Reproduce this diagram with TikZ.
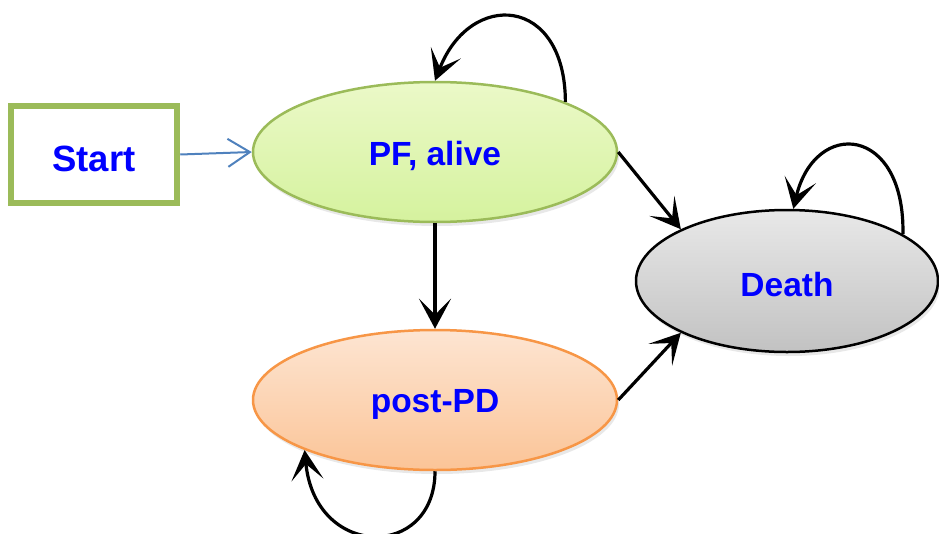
\documentclass[tikz,border=0pt]{standalone}
\usepackage{fontspec}
\setmainfont{Liberation Sans}
\usetikzlibrary{arrows.meta,shapes.geometric,shadows}
\definecolor{greenborder}{HTML}{9BBB59}
\definecolor{pftop}{HTML}{EBF9C8}
\definecolor{pfbot}{HTML}{D5F29E}
\definecolor{pdborder}{HTML}{F79646}
\definecolor{pdtop}{HTML}{FDE5D2}
\definecolor{pdbot}{HTML}{FBC497}
\definecolor{dtop}{HTML}{E8E8E8}
\definecolor{dbot}{HTML}{C2C2C2}
\definecolor{startline}{HTML}{4F81BD}
\definecolor{labelblue}{HTML}{0000FF}
\newcommand{\lowtext}[1]{\raisebox{-4pt}[\height][\depth]{#1}}
\tikzset{
  state/.style={ellipse, inner sep=0pt, minimum width=364pt, minimum height=140pt,
    line width=2.5pt, text=labelblue, font=\fontsize{33.5}{38}\selectfont\bfseries,
    drop shadow={shadow xshift=2pt, shadow yshift=-4pt, opacity=0.18}},
  startbox/.style={rectangle, draw=greenborder, line width=6.5pt, fill=white,
    minimum width=166pt, minimum height=97pt, inner sep=0pt, text=labelblue,
    font=\fontsize{36.5}{40}\selectfont\bfseries},
  trans/.style={draw=black, line width=3.2pt,
    -{Stealth[length=30pt,width=32pt,inset=16pt]}},
  entry/.style={draw=startline, line width=2pt,
    -{Straight Barb[length=22pt,width=28pt,line width=2pt]}}
}
\begin{document}
\begin{tikzpicture}[x=1pt,y=-1pt]
\useasboundingbox (0,0) rectangle (939,533);
\clip (0,0) rectangle (939,533);
\node[startbox] (start) at (94,154.5) {\lowtext{Start}};
\node[state, draw=greenborder, top color=pftop, bottom color=pfbot] (pf) at (435,152) {\lowtext{PF, alive}};
\node[state, draw=pdborder, top color=pdtop, bottom color=pdbot] (pd) at (435,400) {\lowtext{post-PD}};
\node[state, draw=black, top color=dtop, bottom color=dbot, minimum width=302pt, minimum height=142pt] (death) at (787,281) {\lowtext{Death}};
\draw[entry] (start.east) -- (pf.west);
\draw[trans] (pf.south) -- (pd.north);
\draw[trans] (pf.east) -- (death.154);
\draw[trans] (pd.east) -- (death.206);
\draw[trans] (pf.21.5) .. controls (565,-5) and (470,-10) .. (pf.north);
\draw[trans] (death.22) .. controls (905,125) and (815,118) .. (death.85);
\draw[trans] (pd.south) .. controls (435,560) and (315,560) .. (pd.201);
\end{tikzpicture}
\end{document}
